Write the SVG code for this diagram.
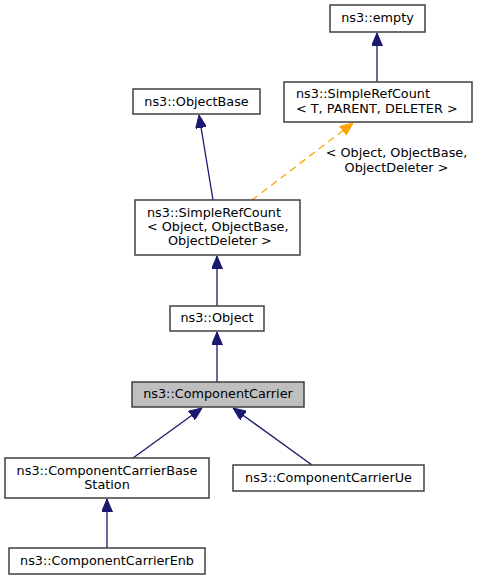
<svg xmlns="http://www.w3.org/2000/svg" width="477" height="580" viewBox="0 0 477 580">
<style>
  .box{fill:#ffffff;stroke:#404040;stroke-width:1.5}
  .sel{fill:#bfbfbf;stroke:#404040;stroke-width:1.5}
  text{font-family:"DejaVu Sans",Verdana,sans-serif;font-size:12.8px;fill:#000000}
  .m{text-anchor:middle}
  .e{fill:none;stroke:#191970;stroke-width:1.3}
  .t{fill:none;stroke:#ffa500;stroke-width:1.3;stroke-dasharray:7,5}
</style>
<defs>
  <marker id="ab" markerUnits="userSpaceOnUse" viewBox="0 0 13 11" refX="13" refY="5.5" markerWidth="13" markerHeight="11" orient="auto">
    <path d="M0,0 L13,5.5 L0,11 z" fill="#191970" stroke="#191970"/>
  </marker>
  <marker id="ao" markerUnits="userSpaceOnUse" viewBox="0 0 13 11" refX="13" refY="5.5" markerWidth="13" markerHeight="11" orient="auto">
    <path d="M0,0 L13,5.5 L0,11 z" fill="#ffa500" stroke="#ffa500"/>
  </marker>
</defs>
<g id="connectors">
  <path class="e" d="M377,82 L377,33" marker-end="url(#ab)"/>
  <path class="e" d="M213,200 L199,115" marker-end="url(#ab)"/>
  <path class="t" d="M252,200 L353,123" marker-end="url(#ao)"/>
  <text class="m" x="396.5" y="157">&lt; Object, ObjectBase,</text>
  <text class="m" x="396.5" y="171.5">ObjectDeleter &gt;</text>
  <path class="e" d="M217,306 L217,256" marker-end="url(#ab)"/>
  <path class="e" d="M217,382 L217,332" marker-end="url(#ab)"/>
  <path class="e" d="M133,458 L202,408" marker-end="url(#ab)"/>
  <path class="e" d="M312,465 L233,408" marker-end="url(#ab)"/>
  <path class="e" d="M107,548 L107,499" marker-end="url(#ab)"/>
</g>
<g id="empty">
  <rect class="box" x="330" y="5" width="95" height="27"/>
  <text class="m" x="377.5" y="22">ns3::empty</text>
</g>
<g id="SimpleRefCountT">
  <rect class="box" x="284" y="82" width="188" height="40"/>
  <text x="296" y="98">ns3::SimpleRefCount</text>
  <text x="296" y="112.5">&lt; T, PARENT, DELETER &gt;</text>
</g>
<g id="ObjectBase">
  <rect class="box" x="133" y="89" width="127" height="25"/>
  <text class="m" x="196.5" y="106">ns3::ObjectBase</text>
</g>
<g id="SimpleRefCountObject">
  <rect class="box" x="135" y="200" width="165" height="55"/>
  <text x="147" y="217">ns3::SimpleRefCount</text>
  <text x="147" y="231">&lt; Object, ObjectBase,</text>
  <text x="168" y="245">ObjectDeleter &gt;</text>
</g>
<g id="Object">
  <rect class="box" x="170" y="306" width="94" height="25"/>
  <text class="m" x="217" y="322">ns3::Object</text>
</g>
<g id="ComponentCarrier">
  <rect class="sel" x="132" y="382" width="172" height="25"/>
  <text class="m" x="218" y="398">ns3::ComponentCarrier</text>
</g>
<g id="ComponentCarrierBaseStation">
  <rect class="box" x="5" y="458" width="204" height="40"/>
  <text class="m" x="107" y="475">ns3::ComponentCarrierBase</text>
  <text class="m" x="107" y="489">Station</text>
</g>
<g id="ComponentCarrierUe">
  <rect class="box" x="233" y="465" width="191" height="26"/>
  <text class="m" x="328.5" y="482">ns3::ComponentCarrierUe</text>
</g>
<g id="ComponentCarrierEnb">
  <rect class="box" x="9" y="548" width="196" height="26"/>
  <text class="m" x="107" y="565">ns3::ComponentCarrierEnb</text>
</g>
</svg>
